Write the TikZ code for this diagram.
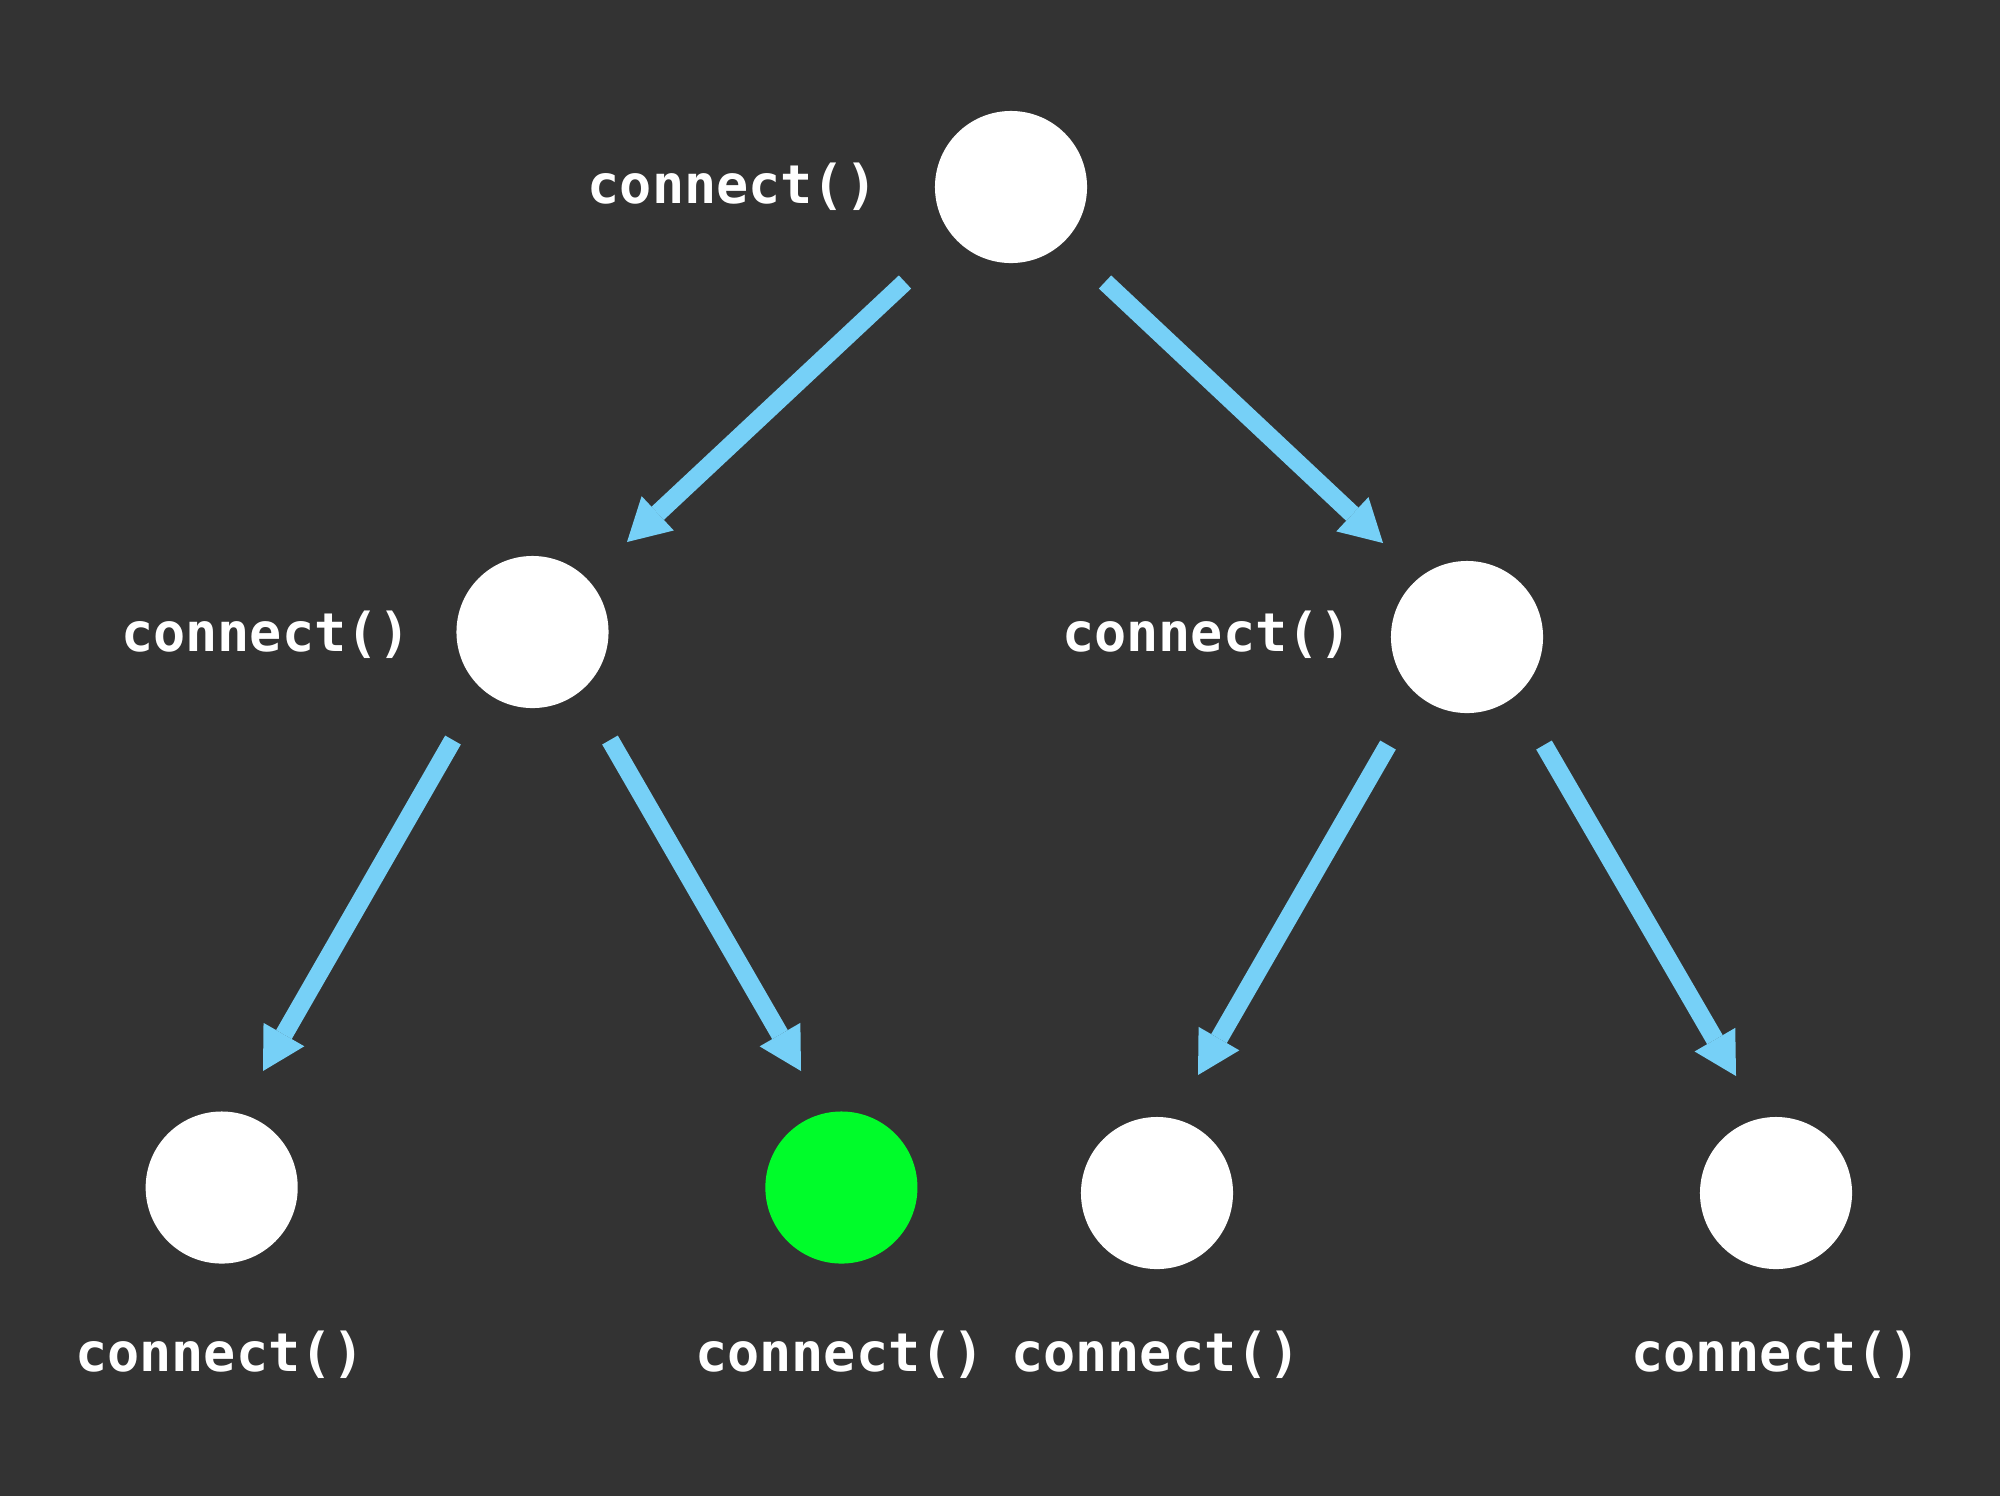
\documentclass[tikz,border=0pt]{standalone}
\usepackage{fontspec}
\newfontfamily\lblfont{DejaVu Sans Mono}
\usetikzlibrary{arrows.meta}
\definecolor{bgc}{HTML}{333333}
\definecolor{arrowblue}{HTML}{76D0F7}
\definecolor{leafgreen}{HTML}{00FC2A}
\tikzset{
  dot/.style={circle, fill=white, draw=none, inner sep=0pt, minimum size=1.52cm},
  lbl/.style={text=white, inner sep=0pt, anchor=base, font=\lblfont\bfseries\fontsize{15.2}{18}\selectfont},
  link/.style={draw=arrowblue, line width=0.18cm, -{Triangle[length=0.42cm, width=0.47cm, line width=0pt]}}
}
\begin{document}
\begin{tikzpicture}[x=0.01cm, y=-0.01cm]
\fill[bgc] (0,0) rectangle (2000,1496);
\useasboundingbox (0,0) rectangle (2000,1496);
% circles
\node[dot] (root) at (1011,187) {};
\node[dot] (ml) at (532.5,632) {};
\node[dot] (mr) at (1467,637) {};
\node[dot] (bl) at (221.7,1187.5) {};
\node[dot, fill=leafgreen] (bg) at (841.4,1187.5) {};
\node[dot] (br1) at (1157,1193) {};
\node[dot] (br2) at (1776,1193) {};
% labels
\node[lbl] (lroot) at (732.5,203) {connect()};
\node[lbl] (lml) at (266,651.7) {connect()};
\node[lbl] (lmr) at (1207,651.7) {connect()};
\node[lbl] (lbl1) at (220,1371.7) {connect()};
\node[lbl] (lbg) at (840,1371.7) {connect()};
\node[lbl] (lbr1) at (1156,1371.7) {connect()};
\node[lbl] (lbr2) at (1776,1371.7) {connect()};
% arrow end points
\coordinate (a1s) at (905,282);  \coordinate (a1e) at (627,542);
\coordinate (a2s) at (1105,282); \coordinate (a2e) at (1383,543);
\coordinate (a3s) at (453,740);  \coordinate (a3e) at (263,1071);
\coordinate (a4s) at (610,740);  \coordinate (a4e) at (801,1071);
\coordinate (a5s) at (1388,745); \coordinate (a5e) at (1198,1075);
\coordinate (a6s) at (1544,745); \coordinate (a6e) at (1736,1076);
\draw[link] (a1s) -- (a1e);
\draw[link] (a2s) -- (a2e);
\draw[link] (a3s) -- (a3e);
\draw[link] (a4s) -- (a4e);
\draw[link] (a5s) -- (a5e);
\draw[link] (a6s) -- (a6e);
\end{tikzpicture}
\end{document}
